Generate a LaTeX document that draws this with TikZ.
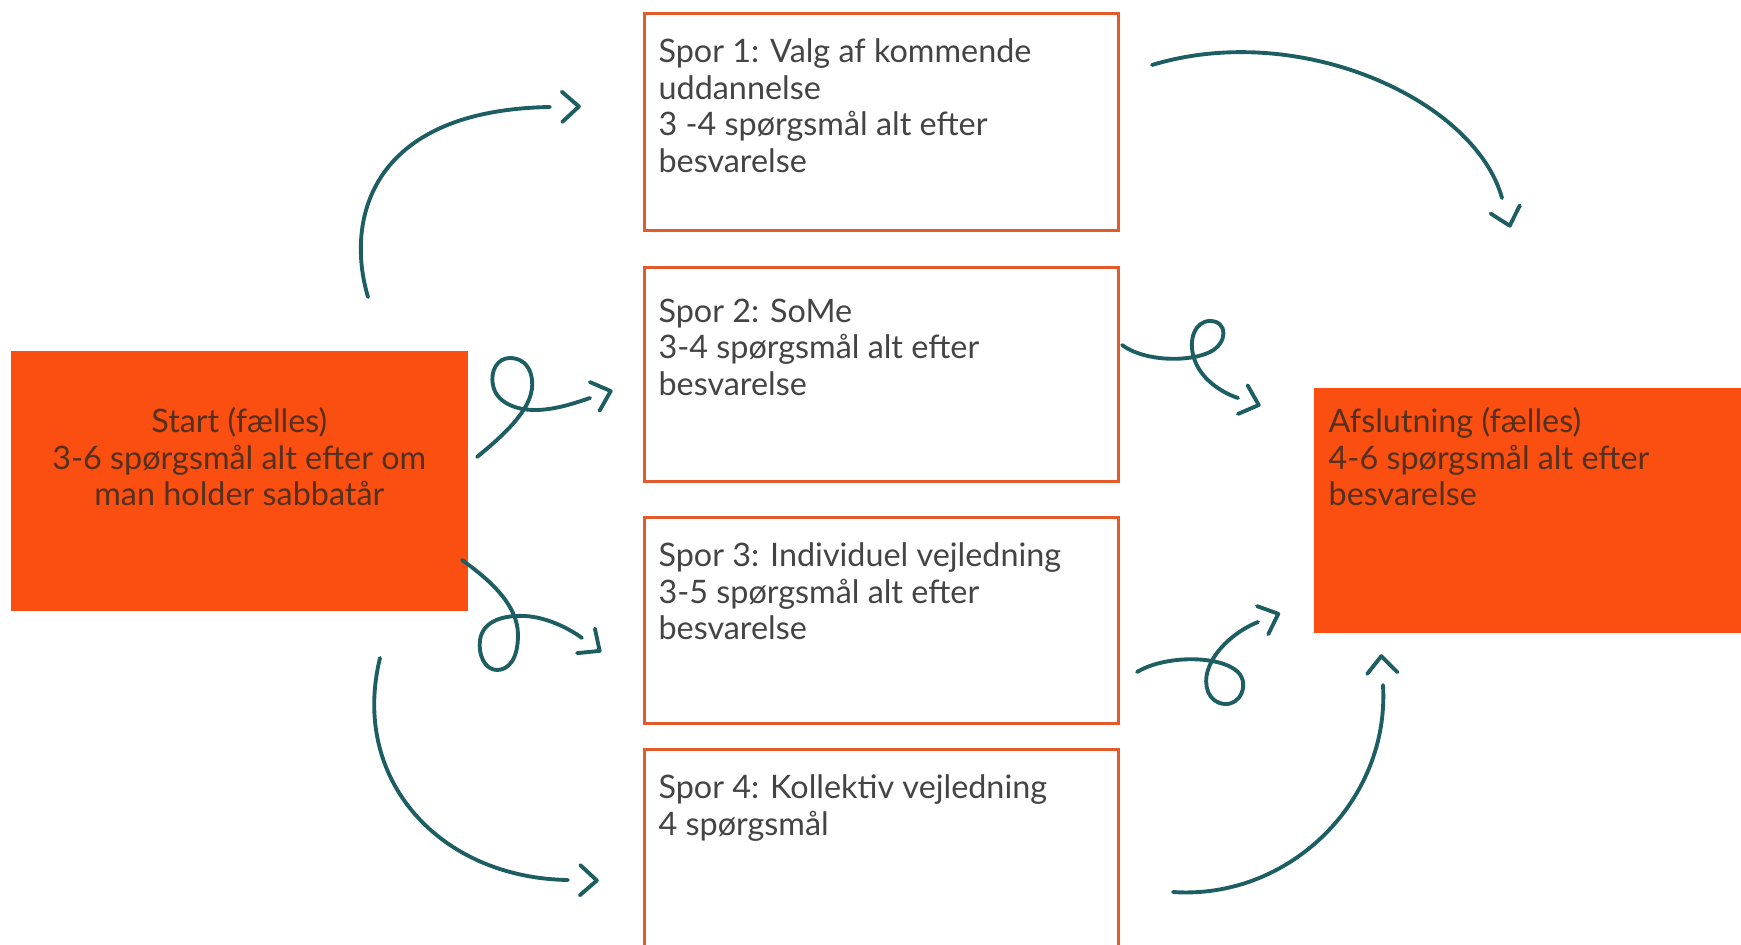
\documentclass[tikz,border=0pt]{standalone}
\usepackage{fontspec}
\setmainfont{Lato}
\usepackage{tikz}
\usetikzlibrary{decorations.markings}
\definecolor{flame}{HTML}{FA4F10}
\definecolor{frame}{HTML}{E35A2B}
\definecolor{tealline}{HTML}{1D5E63}
\definecolor{ink}{HTML}{444444}
\definecolor{inkdark}{HTML}{55301F}
\tikzstyle{flow}=[x=0.01cm, y=-0.01cm, font=\fontsize{9.2}{10.4}\selectfont]
\tikzstyle{common}=[rectangle, fill=flame, text=inkdark, inner xsep=0.15cm, inner ysep=0.2cm, anchor=north west]
\tikzstyle{spor}=[rectangle, draw=frame, line width=0.9pt, fill=white, text=ink, inner xsep=0.14cm, inner ysep=0.25cm, anchor=north west]
\tikzstyle{teal}=[draw=tealline, line width=1.1pt, line cap=round, line join=round]
% open chevron set a little way past the end of the line
\tikzset{curl/.style={teal, postaction={decorate}, decoration={markings, mark=at position 0.999 with {\draw[teal] (#1,4.3pt) -- ({#1+4.8pt},0pt) -- (#1,-4.3pt);}}}, curl/.default=3.5pt}
\begin{document}
\begin{tikzpicture}[flow]
	\clip (0,0) rectangle (1741,945);

	%The shared start and end
	\draw (10,350) node[common] (start) {\parbox[c][2.2cm][t]{4.27cm}{\vspace*{0.37cm}\centering Start (fælles)\\ 3-6 spørgsmål alt efter om\\ man holder sabbatår}};
	\draw (1313,387) node[common] (end) {\parbox[c][2.05cm][t]{4.17cm}{Afslutning (fælles)\\ 4-6 spørgsmål alt efter\\ besvarelse}};

	%The four tracks
	\draw (643,12) node[spor] (s1) {\parbox[c][1.67cm][t]{4.46cm}{Spor 1: Valg af kommende\\ uddannelse\\ 3 -4 spørgsmål alt efter\\ besvarelse}};
	\draw (643,266) node[spor] (s2) {\parbox[c][1.64cm][t]{4.46cm}{\vspace*{0.06cm}Spor 2: SoMe\\ 3-4 spørgsmål alt efter\\ besvarelse}};
	\draw (643,516) node[spor] (s3) {\parbox[c][1.56cm][t]{4.46cm}{Spor 3: Individuel vejledning\\ 3-5 spørgsmål alt efter\\ besvarelse}};
	\draw (643,748) node[spor] (s4) {\parbox[c][1.8cm][t]{4.46cm}{Spor 4: Kollektiv vejledning\\ 4 spørgsmål}};

	%The loose ends of the arrows
	\coordinate (a1) at (368,297); \coordinate (b1) at (550,107);
	\coordinate (a2) at (1152,65); \coordinate (b2) at (1502,198);
	\coordinate (a3) at (477,457); \coordinate (b3) at (590,398);
	\coordinate (a4) at (462,560); \coordinate (b4) at (582,638);
	\coordinate (a5) at (1122,345); \coordinate (b5) at (1238,398);
	\coordinate (a6) at (1137,672); \coordinate (b6) at (1258,622);
	\coordinate (a7) at (1173,892); \coordinate (b7) at (1383,685);
	\coordinate (a8) at (380,658); \coordinate (b8) at (568,880);

	%The wide arcs
	\draw[curl] (a1) .. controls (345,220) and (370,110) .. (b1);
	\draw[curl] (a2) .. controls (1300,20) and (1475,100) .. (b2);
	\draw[curl] (a7) .. controls (1290,900) and (1390,800) .. (b7);
	\draw[curl] (a8) .. controls (350,780) and (440,878) .. (b8);

	%The looped arrows
	\draw[curl=1.5pt] (a3) .. controls (510,430) and (535,405) .. (532,380) .. controls (530,362) and (518,358) .. (510,358) .. controls (498,358) and (490,370) .. (493,385) .. controls (496,402) and (515,410) .. (535,410) .. controls (555,410) and (575,403) .. (b3);
	\draw[curl=1.5pt] (a4) .. controls (490,580) and (518,605) .. (518,635) .. controls (518,660) and (508,670) .. (497,670) .. controls (485,670) and (478,655) .. (480,640) .. controls (483,620) and (505,615) .. (525,616) .. controls (545,617) and (567,627) .. (b4);
	\draw[curl=1.5pt] (a5) .. controls (1145,362) and (1190,362) .. (1210,352) .. controls (1228,343) and (1228,321) .. (1210,321) .. controls (1195,321) and (1188,340) .. (1194,358) .. controls (1200,378) and (1220,392) .. (b5);
	\draw[curl=1.5pt] (a6) .. controls (1165,655) and (1220,655) .. (1238,672) .. controls (1250,685) and (1240,705) .. (1225,704) .. controls (1208,703) and (1203,685) .. (1208,670) .. controls (1215,648) and (1238,630) .. (b6);
\end{tikzpicture}
\end{document}
